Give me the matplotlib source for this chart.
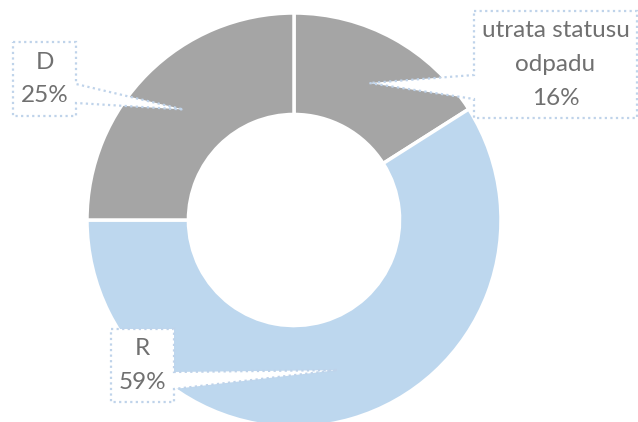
import numpy as np
from matplotlib import pyplot as plt
from matplotlib.patches import Polygon

labels = ["utrata statusu\nodpadu", "R", "D"]
shares = [16, 59, 25]
colors = ["#A5A5A5", "#BDD7EE", "#A5A5A5"]

H = 422

# label boxes in pixel coords (left, top, right, bottom) and pointer base on box side
boxes = [
    (474, 11, 637, 118, "left", 75, 99),
    (111, 329, 174, 402, "right", 372, 389),
    (13, 42, 76, 116, "right", 84, 103),
]

fig = plt.figure(figsize=(6.38, 4.22), dpi=100)
ax = fig.add_axes([0, 0, 1, 1])

cx, cy, R = 294, H - 220, 207
ring = 0.49
wedges, _ = ax.pie(shares, colors=colors, startangle=90, counterclock=False,
                   center=(cx, cy), radius=R, frame=True,
                   wedgeprops=dict(width=R * ring, edgecolor="white", linewidth=2.5))
ax.set_xlim(0, 638)
ax.set_ylim(0, H)
ax.set_aspect("equal")
ax.axis("off")

for w, lab, val, b in zip(wedges, labels, shares, boxes):
    mid = np.deg2rad((w.theta1 + w.theta2) / 2)
    rm = R * (1 - ring / 2)
    tx, ty = cx + rm * np.cos(mid), cy + rm * np.sin(mid)
    l, t, r, btm, side, p1, p2 = b
    t, btm, p1, p2 = H - t, H - btm, H - p1, H - p2
    if side == "right":
        pts = [(l, t), (r, t), (r, p1), (tx, ty), (r, p2), (r, btm), (l, btm)]
    else:
        pts = [(l, t), (r, t), (r, btm), (l, btm), (l, p2), (tx, ty), (l, p1)]
    ax.add_patch(Polygon(pts, closed=True, facecolor="white", edgecolor="#BFD3EA",
                         linestyle=(0, (1, 1.5)), linewidth=1.6, zorder=3))
    ax.text((l + r) / 2, (t + btm) / 2, f"{lab}\n{val}%", ha="center", va="center",
            fontsize=17.5, family="Lato", color="#707070", linespacing=1.75, zorder=4)

fig.savefig("out.png", dpi=100)
